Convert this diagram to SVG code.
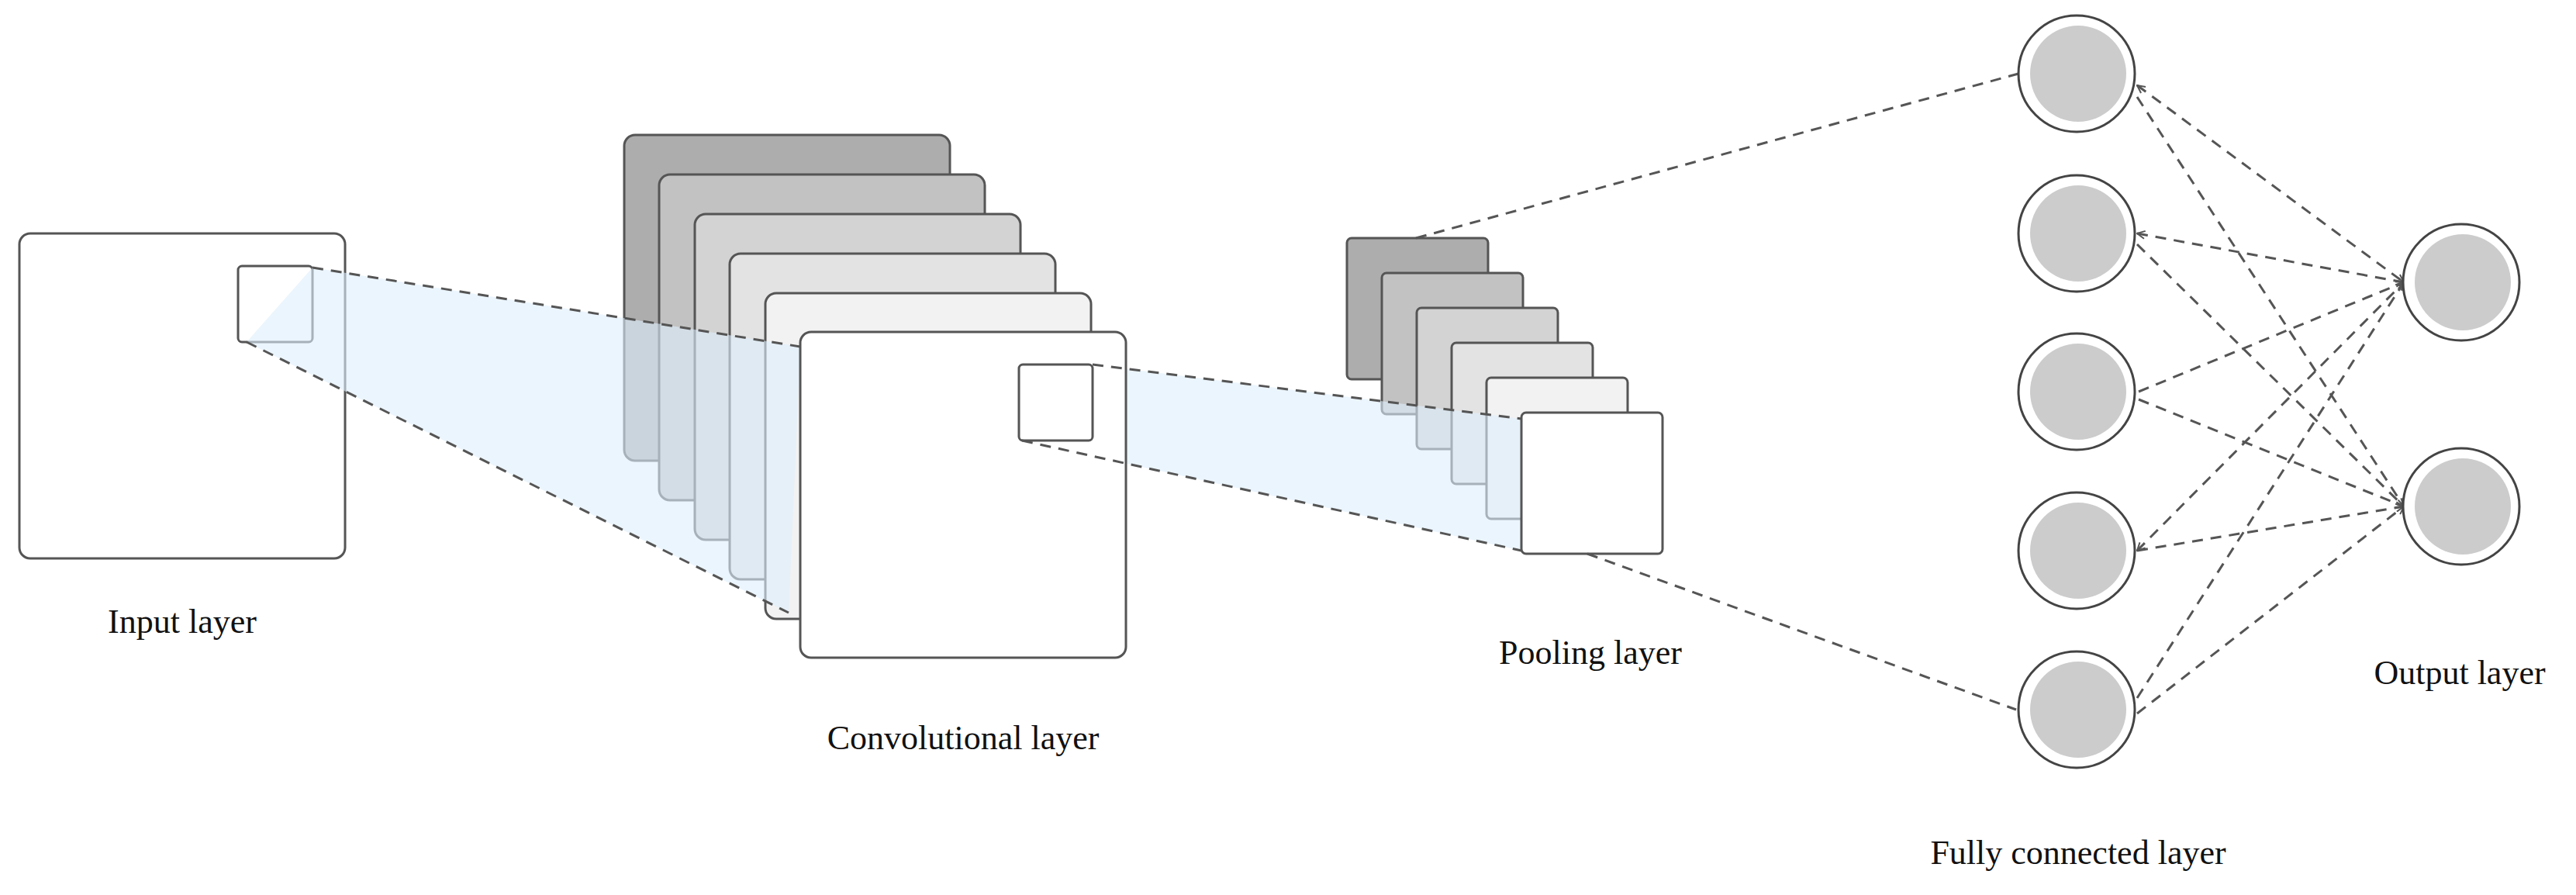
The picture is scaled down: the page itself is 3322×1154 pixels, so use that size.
<svg xmlns="http://www.w3.org/2000/svg" width="3322" height="1154" viewBox="0 0 3322 1154">
<defs>
<style>
.card{stroke:#555;stroke-width:3}
.d{stroke:#555;stroke-width:3;stroke-dasharray:14 10;fill:none}
.lbl{font-family:"Liberation Serif",serif;font-size:44px;fill:#111;text-anchor:middle}
.on{fill:#fff;stroke:#444;stroke-width:3}
.in{fill:#cccccc}
</style>
<marker id="ar" viewBox="0 0 12 12" refX="11" refY="6" markerWidth="12" markerHeight="12" markerUnits="userSpaceOnUse" orient="auto-start-reverse"><path d="M1,1 L11,6 L1,11" fill="none" stroke="#555" stroke-width="2"/></marker>
</defs>
<rect width="3322" height="1154" fill="#fff"/>
<g id="input">
<rect class="card" x="25" y="301" width="420" height="419" rx="14" fill="#fff"/>
<rect class="card" x="307" y="343" width="96" height="98" rx="5" fill="#fff"/>
</g>
<g id="conv">
<rect class="card" x="805" y="174" width="420" height="420" rx="14" fill="#adadad"/>
<rect class="card" x="850" y="225" width="420" height="420" rx="14" fill="#c2c2c2"/>
<rect class="card" x="896" y="276" width="420" height="420" rx="14" fill="#d3d3d3"/>
<rect class="card" x="941" y="327" width="420" height="420" rx="14" fill="#e3e3e3"/>
<rect class="card" x="987" y="378" width="420" height="420" rx="14" fill="#f2f2f2"/>
</g>
<g id="pool">
<rect class="card" x="1737" y="307" width="182" height="182" rx="6" fill="#adadad"/>
<rect class="card" x="1782" y="352" width="182" height="182" rx="6" fill="#c2c2c2"/>
<rect class="card" x="1827" y="397" width="182" height="182" rx="6" fill="#d3d3d3"/>
<rect class="card" x="1872" y="442" width="182" height="182" rx="6" fill="#e3e3e3"/>
<rect class="card" x="1917" y="487" width="182" height="182" rx="6" fill="#f2f2f2"/>
</g>
<g id="fields">
<polygon points="403,345 1032,447 1017,790 318,441" fill="#ddeefc" fill-opacity="0.6"/>
<polygon points="1409,470 1962,540 1962,710 1318,568" fill="#ddeefc" fill-opacity="0.6"/>
</g>
<g id="conv-front">
<rect class="card" x="1032" y="428" width="420" height="420" rx="14" fill="#fff"/>
<rect class="card" x="1314" y="470" width="95" height="98" rx="5" fill="#fff"/>
</g>
<g id="pool-front">
<rect class="card" x="1962" y="532" width="182" height="182" rx="6" fill="#fff"/>
</g>
<g id="connectors">
<line class="d" x1="403" y1="345" x2="1032" y2="447"/>
<line class="d" x1="318" y1="441" x2="1017" y2="790"/>
<line class="d" x1="1409" y1="470" x2="1962" y2="540"/>
<line class="d" x1="1318" y1="568" x2="1962" y2="710"/>
<line class="d" x1="1826" y1="307" x2="2603" y2="95"/>
<line class="d" x1="2047" y1="714" x2="2600" y2="915"/>
<g marker-end="url(#ar)">
<line class="d" x1="2756" y1="110" x2="3100" y2="364" marker-start="url(#ar)"/>
<line class="d" x1="2756" y1="301" x2="3100" y2="364" marker-start="url(#ar)"/>
<line class="d" x1="2758" y1="505" x2="3100" y2="364"/>
<line class="d" x1="2756" y1="710" x2="3100" y2="364" marker-start="url(#ar)"/>
<line class="d" x1="2756" y1="900" x2="3100" y2="364"/>
<line class="d" x1="2756" y1="125" x2="3100" y2="653"/>
<line class="d" x1="2756" y1="315" x2="3100" y2="653"/>
<line class="d" x1="2758" y1="515" x2="3100" y2="653"/>
<line class="d" x1="2756" y1="710" x2="3100" y2="653"/>
<line class="d" x1="2756" y1="920" x2="3100" y2="653"/>
</g>
</g>
<g id="fc">
<circle class="on" cx="2678" cy="95" r="75"/><circle class="in" cx="2680" cy="95" r="62"/>
<circle class="on" cx="2678" cy="301" r="75"/><circle class="in" cx="2680" cy="301" r="62"/>
<circle class="on" cx="2678" cy="505" r="75"/><circle class="in" cx="2680" cy="505" r="62"/>
<circle class="on" cx="2678" cy="710" r="75"/><circle class="in" cx="2680" cy="710" r="62"/>
<circle class="on" cx="2678" cy="915" r="75"/><circle class="in" cx="2680" cy="915" r="62"/>
</g>
<g id="output">
<circle class="on" cx="3174" cy="364" r="75"/><circle class="in" cx="3176" cy="364" r="62"/>
<circle class="on" cx="3174" cy="653" r="75"/><circle class="in" cx="3176" cy="653" r="62"/>
</g>
<g id="labels">
<text class="lbl" x="235" y="816">Input layer</text>
<text class="lbl" x="1242" y="966">Convolutional layer</text>
<text class="lbl" x="2051" y="856">Pooling layer</text>
<text class="lbl" x="3172" y="882">Output layer</text>
<text class="lbl" x="2680" y="1114">Fully connected layer</text>
</g>
</svg>
